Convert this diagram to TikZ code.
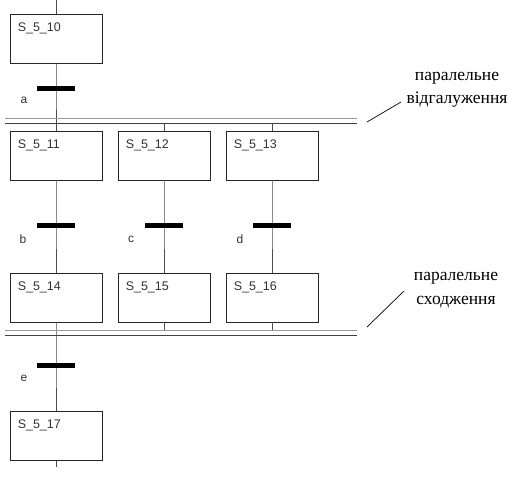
\documentclass[tikz,border=0pt]{standalone}
\usepackage{fontspec}
\setmainfont{Liberation Serif}
\setsansfont{Liberation Sans}
\begin{document}
\begin{tikzpicture}[x=1pt,y=-1pt,
  stepbox/.style={draw=black!85, line width=0.9pt, minimum width=92pt, minimum height=49pt, inner sep=0pt},
  steplabel/.style={anchor=north west, inner sep=0pt, font=\sffamily\fontsize{12.5}{14}\selectfont, text=black!80, xshift=8pt, yshift=-9pt},
  trans/.style={fill=black, minimum width=38pt, minimum height=5pt, inner sep=0pt},
  tlabel/.style={font=\sffamily\fontsize{12}{14}\selectfont, text=black!80, inner sep=0pt},
  flow/.style={draw=black!70, line width=0.7pt},
  railtop/.style={draw=black!40, line width=0.9pt},
  railbot/.style={draw=black!75, line width=0.9pt},
  note/.style={font=\fontsize{17.5}{23.5}\selectfont, align=center, inner sep=0pt},
  pointer/.style={draw=black, line width=0.7pt}]
\useasboundingbox (0,0) rectangle (526,480);

% steps
\node[stepbox, label={[steplabel]north west:S\_5\_10}] (s10) at (56,38.5) {};
\node[stepbox, label={[steplabel]north west:S\_5\_11}] (s11) at (56,155.5) {};
\node[stepbox, label={[steplabel]north west:S\_5\_12}] (s12) at (164,155.5) {};
\node[stepbox, label={[steplabel]north west:S\_5\_13}] (s13) at (272,155.5) {};
\node[stepbox, label={[steplabel]north west:S\_5\_14}] (s14) at (56,297.5) {};
\node[stepbox, label={[steplabel]north west:S\_5\_15}] (s15) at (164,297.5) {};
\node[stepbox, label={[steplabel]north west:S\_5\_16}] (s16) at (272,297.5) {};
\node[stepbox, label={[steplabel]north west:S\_5\_17}] (s17) at (56,436) {};

% transitions
\node[trans] (ta) at (56,88.5) {};
\node[trans] (tb) at (56,225.5) {};
\node[trans] (tc) at (164,225.5) {};
\node[trans] (td) at (272,225.5) {};
\node[trans] (te) at (56,365.5) {};
\node[tlabel] (la) at (24,100.5) {a};
\node[tlabel] (lb) at (23,239) {b};
\node[tlabel] (lc) at (131,239) {c};
\node[tlabel] (ld) at (240,239) {d};
\node[tlabel] (le) at (24,378.5) {e};

% open ends and parallel rails
\coordinate (in) at (56,0);
\coordinate (out) at (56,467);
\coordinate (sa1) at (5,118);  \coordinate (sa2) at (357,118);
\coordinate (sb1) at (5,123);  \coordinate (sb2) at (357,123);
\coordinate (ja1) at (5,330);  \coordinate (ja2) at (357,330);
\coordinate (jb1) at (5,335);  \coordinate (jb2) at (357,335);
\coordinate (r12) at (164,123); \coordinate (r13) at (272,123);
\coordinate (j15) at (164,330); \coordinate (j16) at (272,330);

% flow lines
\draw[flow] (in) -- (s10.north);
\draw[flow] (s10.south) -- (ta.center) -- (s11.north);
\draw[flow] (r12) -- (s12.north);
\draw[flow] (r13) -- (s13.north);
\draw[flow] (s11.south) -- (tb.center) -- (s14.north);
\draw[flow] (s12.south) -- (tc.center) -- (s15.north);
\draw[flow] (s13.south) -- (td.center) -- (s16.north);
\draw[flow] (s14.south) -- (te.center) -- (s17.north);
\draw[flow] (s15.south) -- (j15);
\draw[flow] (s16.south) -- (j16);
\draw[flow] (s17.south) -- (out);
\node[trans] at (ta) {};
\node[trans] at (tb) {};
\node[trans] at (tc) {};
\node[trans] at (td) {};
\node[trans] at (te) {};

\draw[railtop] (sa1) -- (sa2);
\draw[railbot] (sb1) -- (sb2);
\draw[railtop] (ja1) -- (ja2);
\draw[railbot] (jb1) -- (jb2);

% annotations
\node[note] (nsplit) at (457,90) {паралельне\\відгалуження};
\node[note] (njoin) at (456,290) {паралельне\\сходження};
\coordinate (ps1) at (367,122); \coordinate (ps2) at (401,102);
\coordinate (pj1) at (367,327); \coordinate (pj2) at (404,291);
\draw[pointer] (ps1) -- (ps2);
\draw[pointer] (pj1) -- (pj2);
\end{tikzpicture}
\end{document}
